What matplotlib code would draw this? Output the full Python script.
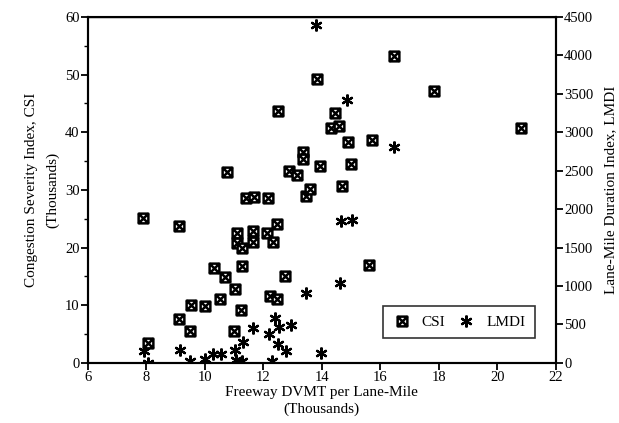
import matplotlib.pyplot as plt
from matplotlib.path import Path
from matplotlib.lines import Line2D

plt.rcParams['font.family'] = ['Liberation Serif', 'DejaVu Serif']

# CSI (thousands) vs freeway DVMT per lane-mile (thousands)
csi_x = [7.88, 8.05, 9.10, 9.13, 9.48, 9.51, 10.01, 10.30, 10.52, 10.69,
         10.74, 10.98, 11.04, 11.10, 11.10, 11.22, 11.28, 11.28, 11.40, 11.64,
         11.63, 11.69, 12.11, 12.16, 12.24, 12.34, 12.47, 12.47, 12.51, 12.73,
         12.88, 13.16, 13.34, 13.34, 13.45, 13.61, 13.82, 13.93, 14.30, 14.44,
         14.59, 14.69, 14.90, 14.99, 15.62, 15.70, 16.46, 17.84, 20.80]
csi_y = [25.1, 3.5, 23.8, 7.7, 5.5, 10.1, 9.9, 16.4, 11.1, 14.9,
         33.1, 5.6, 12.8, 22.5, 20.8, 9.1, 19.9, 16.8, 28.6, 21.0,
         22.8, 28.8, 22.6, 28.6, 11.6, 20.9, 24.1, 11.0, 43.7, 15.0,
         33.2, 32.6, 36.5, 35.4, 29.0, 30.1, 49.2, 34.2, 40.7, 43.4,
         41.0, 30.7, 38.3, 34.5, 17.0, 38.7, 53.3, 47.2, 40.7]

# LMDI vs freeway DVMT per lane-mile (thousands)
lmdi_x = [7.93, 8.04, 9.14, 9.50, 10.00, 10.27, 10.55, 11.02, 11.07, 11.27,
          11.31, 11.66, 12.20, 12.28, 12.39, 12.51, 12.54, 12.79, 12.93, 13.45,
          13.96, 14.61, 14.67, 15.02, 16.47, 14.87, 13.79]
lmdi_y = [150, 5, 169, 28, 45, 117, 115, 169, 39, 30,
          277, 451, 377, 30, 581, 247, 472, 160, 494, 914,
          134, 1036, 1850, 1859, 2812, 3419, 4394]

# square with an X through it
box_x = Path([(-1, -1), (1, -1), (1, 1), (-1, 1), (-1, -1),
              (-1, -1), (1, 1), (-1, 1), (1, -1)],
             [Path.MOVETO, Path.LINETO, Path.LINETO, Path.LINETO, Path.CLOSEPOLY,
              Path.MOVETO, Path.LINETO, Path.MOVETO, Path.LINETO])
sq_style = dict(linestyle='none', marker=box_x, markersize=7, markerfacecolor='white',
                markeredgecolor='black', markeredgewidth=1.8)
star_style = dict(linestyle='none', marker=(6, 2, 0), markersize=8.5, color='black',
                  markeredgewidth=1.6)

fig = plt.figure(figsize=(6.19, 4.23), dpi=100)
ax = fig.add_axes([0.142, 0.142, 0.756, 0.818])
ax2 = ax.twinx()

ax.plot(csi_x, csi_y, **sq_style)
ax2.plot(lmdi_x, lmdi_y, **star_style)

ax.set_xlim(6, 22)
ax.set_ylim(0, 60)
ax2.set_ylim(0, 4500)
ax.set_xticks(range(6, 23, 2))
ax.set_yticks(range(0, 61, 10))
ax.set_yticks(range(5, 60, 10), minor=True)
ax2.set_yticks(range(0, 4501, 500))

for a in (ax, ax2):
    for s in a.spines.values():
        s.set_linewidth(1.5)
    a.tick_params(direction='out', width=1.3, length=5, labelsize=10.5, pad=1)
    a.tick_params(which='minor', direction='out', width=1.0, length=3)
ax.spines['top'].set_linewidth(1.0)

ax.set_xlabel('Freeway DVMT per Lane-Mile\n(Thousands)', fontsize=11, labelpad=1,
              linespacing=1.35)
ax.set_ylabel('Congestion Severity Index, CSI\n(Thousands)', fontsize=11, labelpad=4,
              linespacing=1.8)
ax2.set_ylabel('Lane-Mile Duration Index, LMDI', fontsize=11, labelpad=8)

handles = [Line2D([], [], **sq_style), Line2D([], [], **star_style)]
leg = ax2.legend(handles, ['CSI', 'LMDI'], ncol=2, loc='center',
                 bbox_to_anchor=(0.615, 0.074, 0.356, 0.087), mode='expand',
                 fancybox=False, edgecolor='black', fontsize=11,
                 handlelength=1.2, handletextpad=0.7, columnspacing=2.6, borderpad=0.6)
leg.get_frame().set_linewidth(1.2)

fig.savefig('out.png', dpi=100)
